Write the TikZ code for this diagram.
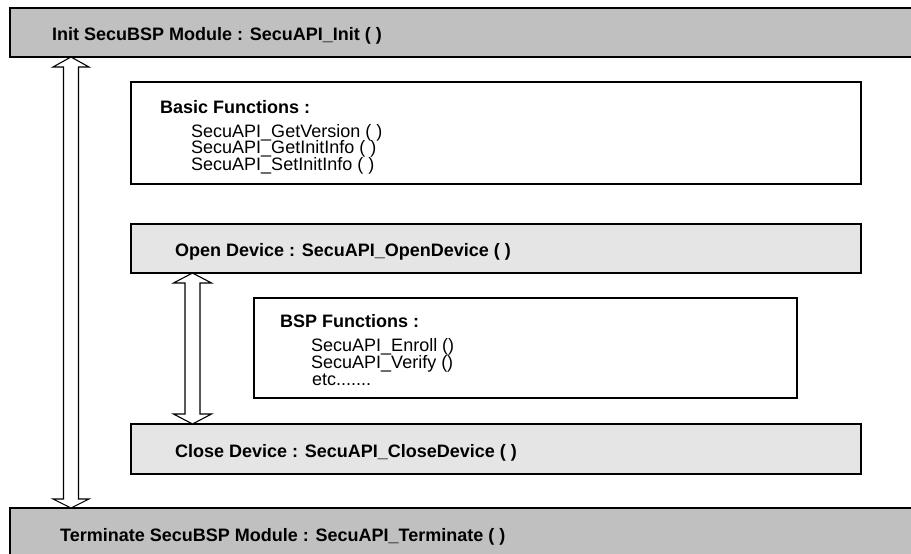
\documentclass[tikz,border=0pt]{standalone}
\usepackage{fontspec}
\setmainfont{Liberation Sans}
\usetikzlibrary{calc}
\definecolor{bargray}{RGB}{192,192,192}
\definecolor{devgray}{RGB}{229,229,229}
\begin{document}
\begin{tikzpicture}[x=1pt,y=-1pt,
  box/.style={draw=black,line width=1.8pt,rectangle,anchor=north west,inner sep=0pt,outer sep=0pt},
  bar/.style={box,fill=bargray},
  devbox/.style={box,fill=devgray},
  fnbox/.style={box,fill=white},
  btxt/.style={anchor=base west,inner sep=0pt,font=\fontsize{18}{18}\selectfont\bfseries},
  rtxt/.style={anchor=base west,inner sep=0pt,font=\fontsize{18}{18}\selectfont},
  darrow/.style={draw=black,line width=1.1pt,fill=white,line join=miter}]
\useasboundingbox (0,0) rectangle (911,554);
\clip (0,0) rectangle (911,554);
% boxes
\node[bar,minimum width=915pt,minimum height=49pt] (init) at (10,8) {};
\node[fnbox,minimum width=730pt,minimum height=102pt] (basic) at (131,82) {};
\node[devbox,minimum width=730pt,minimum height=49pt] (open) at (131,224) {};
\node[fnbox,minimum width=543pt,minimum height=100pt] (bsp) at (254,298) {};
\node[devbox,minimum width=730pt,minimum height=50pt] (close) at (131,424) {};
\node[bar,minimum width=915pt,minimum height=60pt] (term) at (10,508) {};
% texts
\node[btxt] (tinit) at (52,40) {Init SecuBSP Module : SecuAPI\_Init ( )};
\node[btxt] (tbasic) at (160,113) {Basic Functions :};
\node[rtxt] (tb1) at (191,137) {SecuAPI\_GetVersion ( )};
\node[rtxt] (tb2) at (191,153.5) {SecuAPI\_GetInitInfo ( )};
\node[rtxt] (tb3) at (191,170) {SecuAPI\_SetInitInfo ( )};
\node[btxt] (topen) at (175,256) {Open Device : SecuAPI\_OpenDevice ( )};
\node[btxt] (tbsp) at (280,327) {BSP Functions :};
\node[rtxt] (ts1) at (311,351) {SecuAPI\_Enroll ()};
\node[rtxt] (ts2) at (311,368) {SecuAPI\_Verify ()};
\node[rtxt] (ts3) at (312,385) {etc.......};
\node[btxt] (tclose) at (175,457) {Close Device : SecuAPI\_CloseDevice ( )};
\node[btxt] (tterm) at (60,541) {Terminate SecuBSP Module : SecuAPI\_Terminate ( )};
% arrows
\coordinate (ax) at (71,0);
\coordinate (bx) at (192.5,0);
\draw[darrow] let \p1=(init.south -| ax), \p2=(term.north -| ax) in
  (\x1,\y1) -- (\x1+18pt,\y1-10pt) -- (\x1+7.5pt,\y1-10pt) -- (\x1+7.5pt,\y2+9pt)
  -- (\x1+18pt,\y2+9pt) -- (\x2,\y2) -- (\x1-18pt,\y2+9pt) -- (\x1-7.5pt,\y2+9pt)
  -- (\x1-7.5pt,\y1-10pt) -- (\x1-18pt,\y1-10pt) -- cycle;
\draw[darrow] let \p1=(open.south -| bx), \p2=(close.north -| bx) in
  (\x1,\y1) -- (\x1+19pt,\y1-10pt) -- (\x1+7.5pt,\y1-10pt) -- (\x1+7.5pt,\y2+10pt)
  -- (\x1+19pt,\y2+10pt) -- (\x2,\y2) -- (\x1-19pt,\y2+10pt) -- (\x1-7.5pt,\y2+10pt)
  -- (\x1-7.5pt,\y1-10pt) -- (\x1-19pt,\y1-10pt) -- cycle;
\end{tikzpicture}
\end{document}
